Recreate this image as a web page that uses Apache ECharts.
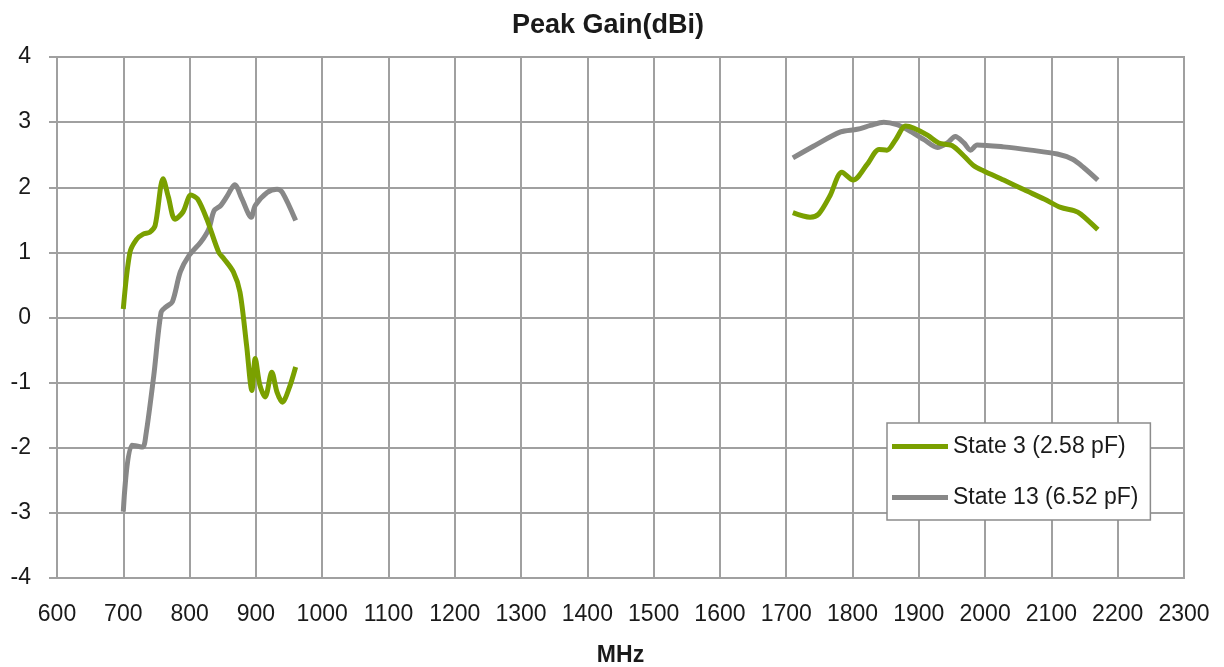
<!DOCTYPE html>
<html>
<head>
<meta charset="utf-8">
<script src="https://cdn.jsdelivr.net/npm/echarts@6/dist/echarts.min.js"></script>
<style>
html,body{margin:0;padding:0;background:#fff;}
#chart{width:1224px;height:667px;}
</style>
</head>
<body>
<div id="chart"></div>
<script>
// ---- Data ----
const xTicks = [600,700,800,900,1000,1100,1200,1300,1400,1500,1600,1700,1800,1900,2000,2100,2200,2300];
const yTicks = [-4,-3,-2,-1,0,1,2,3,4];

const state3LowMHz  = [700,710,720,730,740,748,760,768,778,790,802,812,826,844,852,866,876,886,894,899,906,914,924,932,940,950,960];
const state3LowGain = [0.13,1.0,1.2,1.28,1.31,1.41,2.13,1.85,1.51,1.62,1.88,1.82,1.51,1.0,0.9,0.70,0.39,-0.43,-1.12,-0.63,-1.04,-1.22,-0.84,-1.15,-1.30,-1.09,-0.76];
const state3HighMHz  = [1710,1736,1749,1766,1784,1801,1822,1840,1852,1865,1880,1892,1913,1930,1950,1968,1983,1998,2028,2059,2089,2114,2134,2144,2170];
const state3HighGain = [1.61,1.54,1.59,1.87,2.23,2.11,2.35,2.58,2.57,2.73,2.94,2.91,2.80,2.68,2.64,2.48,2.33,2.25,2.11,1.96,1.82,1.69,1.64,1.59,1.35];

const state13LowMHz  = [700,713,729,734,746,757,764,774,786,799,817,829,837,847,857,868,879,893,899,917,932,940,960];
const state13LowGain = [-2.98,-1.96,-1.99,-1.81,-0.89,0.08,0.16,0.24,0.70,0.95,1.16,1.36,1.64,1.72,1.87,2.04,1.82,1.54,1.72,1.92,1.97,1.92,1.49];
const state13HighMHz  = [1710,1741,1782,1807,1827,1847,1867,1887,1908,1928,1943,1955,1968,1978,1988,2028,2069,2109,2132,2149,2170];
const state13HighGain = [2.45,2.63,2.85,2.89,2.95,3.0,2.96,2.86,2.73,2.61,2.68,2.78,2.68,2.57,2.65,2.62,2.57,2.51,2.43,2.30,2.11];

const seriesNames = ['State 3 (2.58 pF)', 'State 13 (6.52 pF)'];

// ---- Build series data (gap between bands) ----
function pairs(xs, ys){ return xs.map((x,i)=>[x, ys[i]]); }
function withGap(a, b){ return a.concat([[1300, '-']], b); }

const s3 = withGap(pairs(state3LowMHz, state3LowGain), pairs(state3HighMHz, state3HighGain));
const s13 = withGap(pairs(state13LowMHz, state13LowGain), pairs(state13HighMHz, state13HighGain));

const FONT = '"Liberation Sans", Arial, sans-serif';
const TXT = '#1a1a1a';
const GRIDC = '#a0a0a0';
const GREEN = '#7aa000';
const GRAY = '#888888';

const chart = echarts.init(document.getElementById('chart'), null, {renderer:'canvas'});
chart.setOption({
  animation: false,
  backgroundColor: '#ffffff',
  title: {
    text: 'Peak Gain(dBi)',
    left: 507, top: 7,
    textStyle: {fontFamily: FONT, fontSize: 27, fontWeight: 'bold', color: TXT}
  },
  grid: {left: 57, right: 40, top: 57, bottom: 89, show: true, borderColor: GRIDC, borderWidth: 2,
         containLabel: false, outerBoundsMode: 'none'},
  legend: {
    orient: 'vertical',
    left: 887, top: 423,
    padding: [11, 12, 10, 5],
    itemGap: 26,
    itemWidth: 56, itemHeight: 5,
    icon: 'rect',
    backgroundColor: '#ffffff',
    borderColor: '#8c8c8c', borderWidth: 1.5, borderRadius: 0,
    textStyle: {fontFamily: FONT, fontSize: 23, color: TXT, lineHeight: 25},
    data: [
      {name: seriesNames[0], itemStyle: {color: GREEN}},
      {name: seriesNames[1], itemStyle: {color: GRAY}}
    ]
  },
  xAxis: {
    type: 'value',
    min: xTicks[0], max: xTicks[xTicks.length-1], interval: 100,
    name: 'MHz', nameLocation: 'middle', nameGap: 66,
    nameTextStyle: {fontFamily: FONT, fontSize: 23, fontWeight: 'bold', color: TXT},
    axisLine: {show: true, lineStyle: {color: GRIDC, width: 2}},
    axisTick: {show: true, length: 8, lineStyle: {color: GRIDC, width: 2}},
    splitLine: {show: true, lineStyle: {color: GRIDC, width: 2}},
    axisLabel: {fontFamily: FONT, fontSize: 23, color: TXT, margin: 25, showMinLabel: true, showMaxLabel: true,
                formatter: v => String(v)}
  },
  yAxis: {
    type: 'value',
    min: yTicks[0], max: yTicks[yTicks.length-1], interval: 1,
    axisLine: {show: true, lineStyle: {color: GRIDC, width: 2}},
    axisTick: {show: true, length: 8, lineStyle: {color: GRIDC, width: 2}},
    splitLine: {show: true, lineStyle: {color: GRIDC, width: 2}},
    axisLabel: {fontFamily: FONT, fontSize: 23, color: TXT, margin: 26, formatter: v => String(v)}
  },
  series: [
    {
      name: seriesNames[0], type: 'line', data: s3,
      smooth: 0.3, symbol: 'none', connectNulls: false,
      lineStyle: {color: GREEN, width: 5},
      itemStyle: {color: GREEN},
      z: 3
    },
    {
      name: seriesNames[1], type: 'line', data: s13,
      smooth: 0.3, symbol: 'none', connectNulls: false,
      lineStyle: {color: GRAY, width: 5},
      itemStyle: {color: GRAY},
      z: 2
    }
  ]
});
</script>
</body>
</html>
